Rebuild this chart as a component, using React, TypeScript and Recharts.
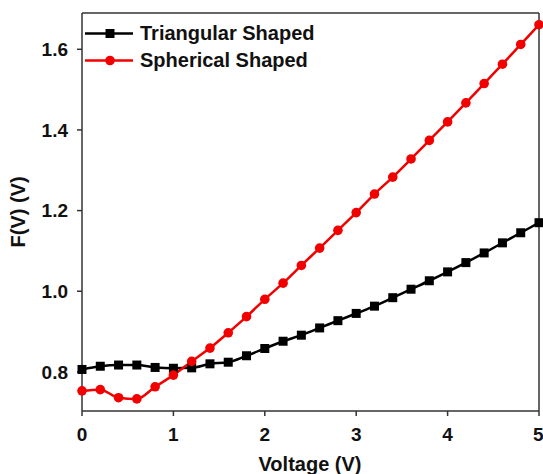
import { LineChart, Line, XAxis, YAxis, ReferenceLine } from 'recharts';

// voltage steps (V)
const voltage = [
  0, 0.2, 0.4, 0.6, 0.8, 1.0, 1.2, 1.4, 1.6, 1.8, 2.0, 2.2, 2.4, 2.6, 2.8, 3.0, 3.2, 3.4, 3.6,
  3.8, 4.0, 4.2, 4.4, 4.6, 4.8, 5.0,
];

const triangular = [
  0.806, 0.814, 0.817, 0.817, 0.811, 0.809, 0.81, 0.82, 0.824, 0.84, 0.858, 0.876, 0.891, 0.909,
  0.927, 0.945, 0.963, 0.984, 1.005, 1.026, 1.048, 1.071, 1.095, 1.12, 1.145, 1.17,
];

const spherical = [
  0.753, 0.756, 0.736, 0.733, 0.763, 0.792, 0.826, 0.859, 0.897, 0.937, 0.98, 1.02, 1.064, 1.107,
  1.151, 1.195, 1.241, 1.283, 1.328, 1.374, 1.42, 1.467, 1.515, 1.563, 1.612, 1.661,
];

const xTicks = [0, 1, 2, 3, 4, 5];
const yTicks = [0.8, 1.0, 1.2, 1.4, 1.6];

const seriesNames = ['Triangular Shaped', 'Spherical Shaped'];

const data = voltage.map((v, i) => ({ v, tri: triangular[i], sph: spherical[i] }));

const FONT = '"Liberation Sans", Arial, sans-serif';
const AXIS = '#333';
const RED = '#f20000';

const SquareDot = (props: any) => {
  const { cx, cy, index } = props;
  if (cx == null || cy == null) return <g key={`s-${index}`} />;
  return <rect key={`s-${index}`} x={cx - 4.5} y={cy - 4.5} width={9} height={9} fill="#000" />;
};

// legend drawn as an overlay in the top-left corner of the plot
const LegendBox = () => (
  <div
    style={{
      position: 'absolute',
      left: 85,
      top: 20,
      fontFamily: FONT,
      fontWeight: 700,
      fontSize: 20,
      lineHeight: '27px',
      pointerEvents: 'none',
    }}
  >
    {seriesNames.map((name, i) => (
      <div key={name} style={{ display: 'flex', alignItems: 'center', height: 27 }}>
        <svg width={52} height={27} style={{ display: 'block' }}>
          <line x1={0} x2={48} y1={13.5} y2={13.5} stroke={i === 0 ? '#000' : RED} strokeWidth={2.5} />
          {i === 0 ? (
            <rect x={20.5} y={9} width={9} height={9} fill="#000" />
          ) : (
            <circle cx={25} cy={13.5} r={4.8} fill={RED} />
          )}
        </svg>
        <span style={{ marginLeft: 3, color: '#111' }}>{name}</span>
      </div>
    ))}
  </div>
);

export default function App() {
  return (
    <div style={{ position: 'absolute', left: 0, top: 0, width: 543, height: 474, background: '#fff' }}>
      <LineChart width={543} height={474} data={data} margin={{ top: 13, right: 4, bottom: 0, left: 0 }}>
        <XAxis
          dataKey="v"
          type="number"
          domain={[0, 5]}
          ticks={xTicks}
          height={63}
          stroke={AXIS}
          strokeWidth={1.5}
          tickSize={5}
          tickMargin={12}
          tick={{ fill: '#111', fontSize: 19, fontWeight: 700, fontFamily: FONT }}
          label={{
            content: () => (
              <text x={310} y={471} textAnchor="middle" fontFamily={FONT} fontWeight={700} fontSize={20} fill="#111">
                Voltage (V)
              </text>
            ),
          }}
        />
        <YAxis
          type="number"
          domain={[0.703, 1.69]}
          ticks={yTicks}
          width={82}
          stroke={AXIS}
          strokeWidth={1.5}
          tickSize={5}
          tickMargin={9}
          allowDataOverflow
          tickFormatter={(t: number) => t.toFixed(1)}
          tick={{ fill: '#111', fontSize: 19, fontWeight: 700, fontFamily: FONT }}
          label={{
            content: () => (
              <text
                x={18}
                y={212}
                transform="rotate(-90 18 212)"
                textAnchor="middle"
                dominantBaseline="central"
                fontFamily={FONT}
                fontWeight={700}
                fontSize={20}
                fill="#111"
              >
                F(V) (V)
              </text>
            ),
          }}
        />
        <ReferenceLine y={1.69} stroke={AXIS} strokeWidth={1.5} />
        <ReferenceLine x={5} stroke={AXIS} strokeWidth={1.5} />
        <Line
          dataKey="tri"
          name={seriesNames[0]}
          type="monotone"
          stroke="#000"
          strokeWidth={2.5}
          dot={<SquareDot />}
          activeDot={false}
          isAnimationActive={false}
        />
        <Line
          dataKey="sph"
          name={seriesNames[1]}
          type="monotone"
          stroke={RED}
          strokeWidth={2.5}
          dot={{ r: 4.8, fill: RED, stroke: RED, strokeWidth: 0 }}
          activeDot={false}
          isAnimationActive={false}
        />
      </LineChart>
      <LegendBox />
    </div>
  );
}
